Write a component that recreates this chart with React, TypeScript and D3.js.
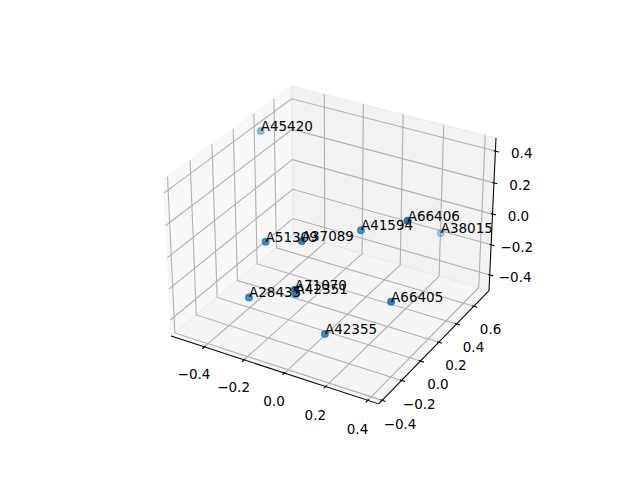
import React from "react";
import * as d3 from "d3";

// ---- data ----
const pointLabels = ["A45420", "A51309", "A37089", "A41594", "A66406", "A38015", "A28435", "A71070", "A42351", "A42355", "A66405"];
const xValues = [-0.534, -0.219, -0.046, 0.116, 0.356, 0.217, -0.221, 0.002, -0.032, 0.094, 0.339];
const yValues = [0.393, -0.173, -0.164, 0.09, 0.046, 0.743, -0.335, -0.33, -0.256, -0.224, -0.074];
const zValues = [0.387, 0.089, 0.153, 0.142, 0.312, -0.191, -0.172, -0.038, -0.121, -0.343, -0.128];

const xTicks = [-0.4, -0.2, 0, 0.2, 0.4];
const yTicks = [-0.4, -0.2, 0, 0.2, 0.4, 0.6];
const zTicks = [-0.4, -0.2, 0, 0.2, 0.4];
const xLimits = [-0.551, 0.431];
const yLimits = [-0.41, 0.756];
const zLimits = [-0.486, 0.461];

// ---- view / layout ----
const WIDTH = 640;
const HEIGHT = 480;
const ELEV = 30;
const AZIM = -60;
const DIST = 10;
const BOX_ASPECT = [4, 4, 3];
const AX_LEFT = 143.2;
const AX_TOP = 57.6;
const AX_SIZE = 369.6;
const VIEW_LO = -0.095;
const VIEW_HI = 0.09;
const PAD = 1 / 48;
const LABEL_DELTA = 1.0372 / 12;
const FONT = "'DejaVu Sans', sans-serif";
const FS = 13.5;
const C0 = "#1f77b4";

const nrm = Math.hypot(BOX_ASPECT[0], BOX_ASPECT[1], BOX_ASPECT[2]);
const box = BOX_ASPECT.map((b) => (b * 1.8294640721620434) / nrm);
const er = (ELEV * Math.PI) / 180;
const ar = (AZIM * Math.PI) / 180;
const W = [Math.cos(er) * Math.cos(ar), Math.cos(er) * Math.sin(ar), Math.sin(er)];
const ul = Math.hypot(W[0], W[1]);
const U = [-W[1] / ul, W[0] / ul, 0];
const V = [W[1] * U[2] - W[2] * U[1], W[2] * U[0] - W[0] * U[2], W[0] * U[1] - W[1] * U[0]];
const dot = (a: number[], b: number[]) => a[0] * b[0] + a[1] * b[1] + a[2] * b[2];

const sx = d3.scaleLinear().domain([VIEW_LO, VIEW_HI]).range([AX_LEFT, AX_LEFT + AX_SIZE]);
const sy = d3.scaleLinear().domain([VIEW_LO, VIEW_HI]).range([AX_TOP + AX_SIZE, AX_TOP]);

const fx = d3.scaleLinear().domain(xLimits).range([0, 1]);
const fy = d3.scaleLinear().domain(yLimits).range([0, 1]);
const fz = d3.scaleLinear().domain(zLimits).range([0, 1]);

function project(f: number[]): [number, number, number] {
  const d = [0, 1, 2].map((i) => (f[i] - 0.5) * box[i]);
  const s = dot(W, d);
  const den = DIST - s;
  return [sx(dot(U, d) / den), sy(dot(V, d) / den), s];
}

const line = d3.line<[number, number, number]>().x((p) => p[0]).y((p) => p[1]);
const pathOf = (pts: number[][]) => line(pts.map(project)) as string;

const LO = -PAD;
const HI = 1 + PAD;
const fmt = (t: number) => d3.format(".1f")(t).replace("-", "\u2212");

export default function App() {
  const panes = [
    { pts: [[LO, LO, LO], [LO, HI, LO], [LO, HI, HI], [LO, LO, HI]], c: 0.95 },
    { pts: [[LO, HI, LO], [HI, HI, LO], [HI, HI, HI], [LO, HI, HI]], c: 0.9 },
    { pts: [[LO, LO, LO], [HI, LO, LO], [HI, HI, LO], [LO, HI, LO]], c: 0.925 },
  ];

  const grid: string[] = [];
  xTicks.forEach((t) => {
    const f = fx(t);
    grid.push(pathOf([[f, LO, LO], [f, HI, LO], [f, HI, HI]]));
  });
  yTicks.forEach((t) => {
    const f = fy(t);
    grid.push(pathOf([[HI, f, LO], [LO, f, LO], [LO, f, HI]]));
  });
  zTicks.forEach((t) => {
    const f = fz(t);
    grid.push(pathOf([[LO, LO, f], [LO, HI, f], [HI, HI, f]]));
  });

  const axisLines = [
    pathOf([[LO, LO, LO], [HI, LO, LO]]),
    pathOf([[HI, LO, LO], [HI, HI, LO]]),
    pathOf([[HI, HI, LO], [HI, HI, HI]]),
  ];

  const OUT = 0.2 / 12;
  const IN = 0.1 / 12;
  const tickMarks: string[] = [];
  const tickLabels: { x: number; y: number; s: string }[] = [];
  xTicks.forEach((t) => {
    const f = fx(t);
    tickMarks.push(pathOf([[f, LO - OUT, LO], [f, LO + IN, LO]]));
    const p = project([f, LO - LABEL_DELTA, LO - LABEL_DELTA]);
    tickLabels.push({ x: p[0], y: p[1], s: fmt(t) });
  });
  yTicks.forEach((t) => {
    const f = fy(t);
    tickMarks.push(pathOf([[HI + OUT, f, LO], [HI - IN, f, LO]]));
    const p = project([HI + LABEL_DELTA, f, LO - LABEL_DELTA]);
    tickLabels.push({ x: p[0], y: p[1], s: fmt(t) });
  });
  zTicks.forEach((t) => {
    const f = fz(t);
    tickMarks.push(pathOf([[HI + OUT, HI, f], [HI - IN, HI, f]]));
    const p = project([HI + LABEL_DELTA, HI + LABEL_DELTA, f]);
    tickLabels.push({ x: p[0], y: p[1], s: fmt(t) });
  });

  const pts = pointLabels.map((lab, i) => {
    const p = project([fx(xValues[i]), fy(yValues[i]), fz(zValues[i])]);
    return { lab, x: p[0], y: p[1], s: p[2], tz: -DIST / (DIST - p[2]) };
  });
  const tzExt = d3.extent(pts, (p) => p.tz) as [number, number];
  const alphaScale = d3.scaleLinear().domain(tzExt).range([1, 0.3]);
  const ordered = [...pts].sort((a, b) => a.s - b.s);

  return (
    <svg
      width={WIDTH}
      height={HEIGHT}
      style={{ position: "absolute", left: 0, top: 0, background: "#fff" }}
      fontFamily={FONT}
    >
      <rect width={WIDTH} height={HEIGHT} fill="#fff" />
      {panes.map((p, i) => {
        const g = Math.round(p.c * 255);
        const col = `rgb(${g},${g},${g})`;
        return (
          <path
            key={"pane" + i}
            d={pathOf(p.pts) + "Z"}
            fill={col}
            fillOpacity={0.5}
            stroke={col}
            strokeOpacity={0.5}
            strokeWidth={1.39}
          />
        );
      })}
      {grid.map((d, i) => (
        <path key={"g" + i} d={d} fill="none" stroke="#b0b0b0" strokeWidth={1.11} />
      ))}
      {axisLines.map((d, i) => (
        <path key={"a" + i} d={d} fill="none" stroke="#000" strokeWidth={1.04} />
      ))}
      {tickMarks.map((d, i) => (
        <path key={"t" + i} d={d} fill="none" stroke="#000" strokeWidth={1.11} />
      ))}
      {tickLabels.map((l, i) => (
        <text key={"tl" + i} x={l.x} y={l.y} dy="0.76em" textAnchor="middle" fontSize={FS} fill="#000">
          {l.s}
        </text>
      ))}
      {ordered.map((p) => {
        const a = alphaScale(p.tz);
        return (
          <circle
            key={"c" + p.lab}
            cx={p.x}
            cy={p.y}
            r={3.1}
            fill={C0}
            fillOpacity={a}
            stroke={C0}
            strokeOpacity={a}
            strokeWidth={1.8}
          />
        );
      })}
      {pts.map((p) => (
        <text key={"l" + p.lab} x={p.x} y={p.y} fontSize={FS} fill="#000">
          {p.lab}
        </text>
      ))}
    </svg>
  );
}
